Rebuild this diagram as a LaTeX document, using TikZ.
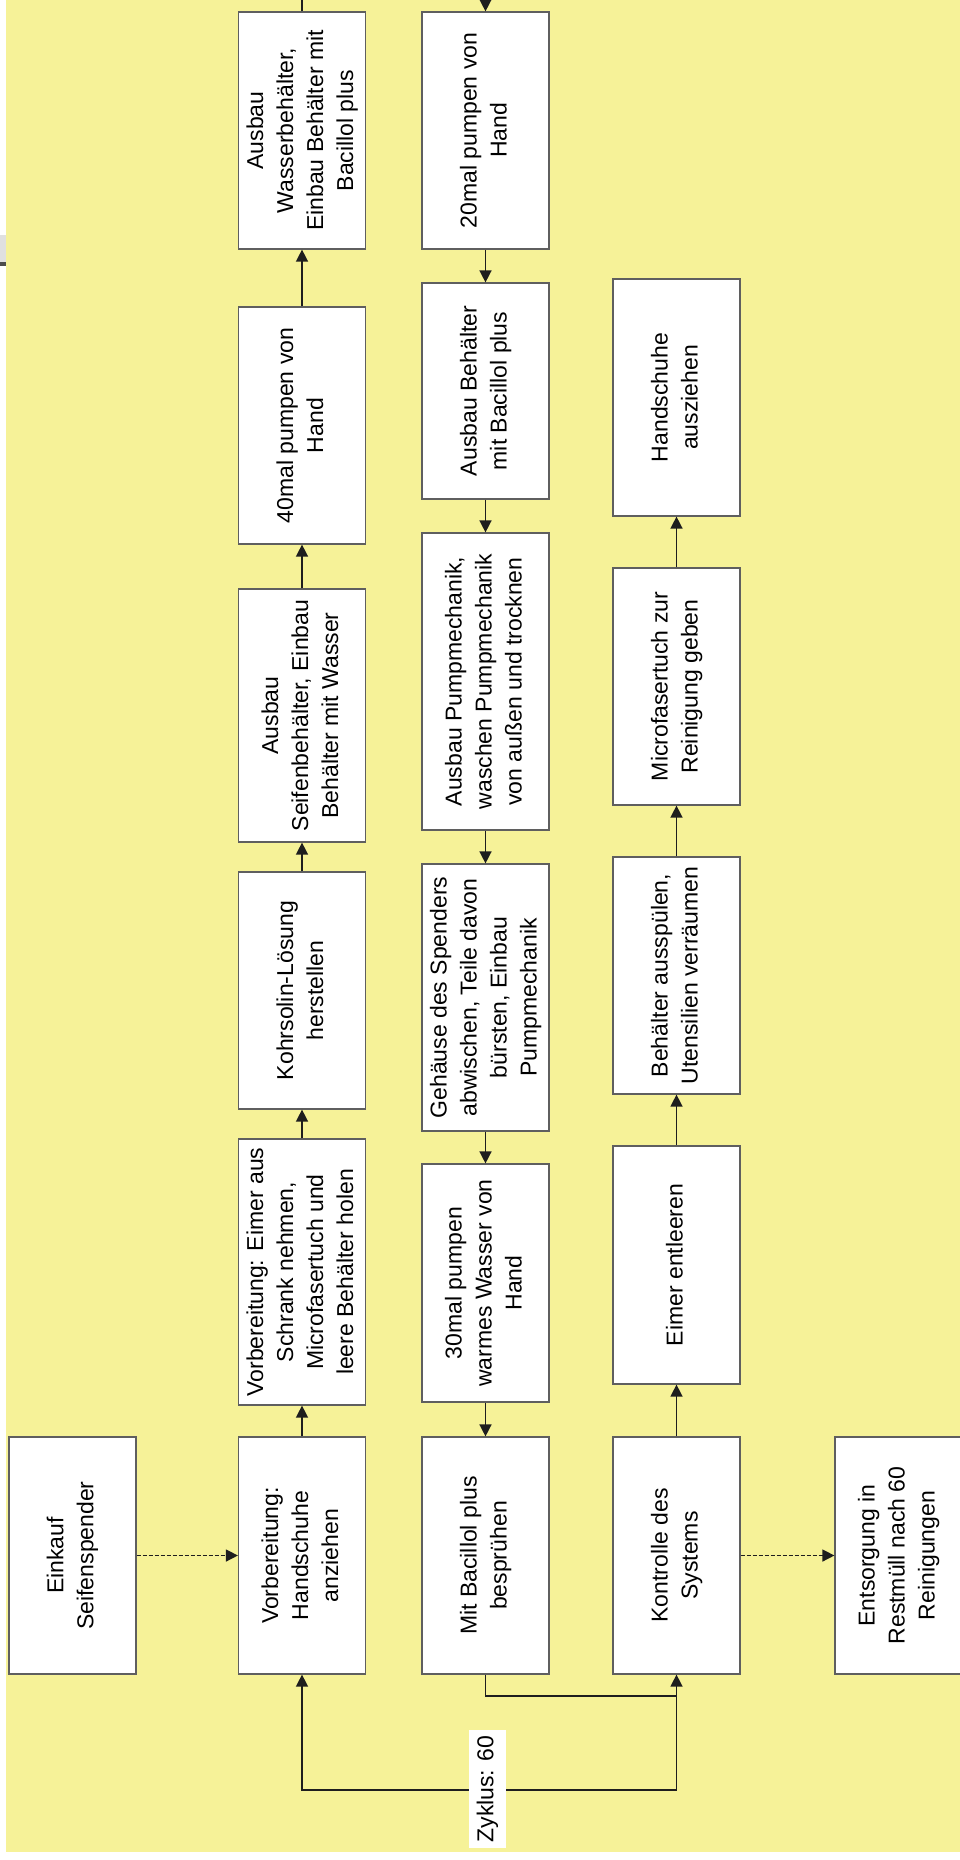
\documentclass[tikz,border=0pt]{standalone}
\usepackage{fontspec}
\setmainfont{Liberation Sans}
\usetikzlibrary{arrows.meta}
\definecolor{bgyellow}{RGB}{246,242,152}
\definecolor{lineblk}{RGB}{30,30,30}
\definecolor{boxgray}{RGB}{95,95,95}
\newcommand\rt[1]{\rotatebox{90}{\begin{tabular}{@{}c@{}}#1\end{tabular}}}
\begin{document}
\begin{tikzpicture}[x=0.75pt,y=-0.75pt,
  box/.style={draw=boxgray, line width=0.9pt, fill=white, inner sep=0pt,
    minimum width=95.25pt, minimum height=177.75pt,
    font=\fontsize{17.25pt}{22.5pt}\selectfont},
  conn/.style={draw=lineblk, line width=1.1pt},
  arr/.style={conn, -{Triangle[length=9pt,width=9pt]}},
  darr/.style={arr, dash pattern=on 3pt off 1.5pt},
  lbl/.style={fill=white, inner sep=0pt, minimum width=27.75pt, minimum height=88.5pt,
    font=\fontsize{17.25pt}{22.5pt}\selectfont}]
\useasboundingbox (0,0) rectangle (960,1860);
\fill[white] (0,0) rectangle (960,1860);
\fill[bgyellow] (6,0) rectangle (960,1852);
\fill[black!12] (0,235) rectangle (6,262);
\fill[black!70] (0,262) rectangle (6,266);

% column 1
\node[box] (ek) at (72.5,1555.5) {\rt{Einkauf\\Seifenspender}};
% column 2
\node[box] (vh) at (302,1555.5) {\rt{Vorbereitung:\\Handschuhe\\anziehen}};
\node[box, minimum height=199.5pt] (vb) at (302,1272) {\rt{Vorbereitung: Eimer aus\\Schrank nehmen,\\Microfasertuch und\\leere Behälter holen}};
\node[box] (kl) at (302,990.5) {\rt{Kohrsolin-Lösung\\herstellen}};
\node[box, minimum height=189.75pt] (sb) at (302,715.5) {\rt{Ausbau\\Seifenbehälter, Einbau\\Behälter mit Wasser}};
\node[box] (p40) at (302,425.5) {\rt{40mal pumpen von\\Hand}};
\node[box] (wb) at (302,130.5) {\rt{Ausbau\\Wasserbehälter,\\Einbau Behälter mit\\Bacillol plus}};
% column 3
\node[box] (p20) at (485.5,130.5) {\rt{20mal pumpen von\\Hand}};
\node[box, minimum height=162pt] (ab) at (485.5,391) {\rt{Ausbau Behälter\\mit Bacillol plus}};
\node[box, minimum height=222.75pt] (pm) at (485.5,681.5) {\rt{Ausbau Pumpmechanik,\\waschen Pumpmechanik\\von außen und trocknen}};
\node[box, minimum height=200.25pt] (gs) at (485.5,997.5) {\rt{Gehäuse des Spenders\\abwischen, Teile davon\\bürsten, Einbau\\Pumpmechanik}};
\node[box, minimum height=178.5pt] (p30) at (485.5,1283) {\rt{30mal pumpen\\warmes Wasser von\\Hand}};
\node[box] (mb) at (485.5,1555.5) {\rt{Mit Bacillol plus\\besprühen}};
% column 4
\node[box] (hs) at (676.5,397.5) {\rt{Handschuhe\\ausziehen}};
\node[box] (mf) at (676.5,686.5) {\rt{Microfasertuch zur\\Reinigung geben}};
\node[box] (ba) at (676.5,975.5) {\rt{Behälter ausspülen,\\Utensilien verräumen}};
\node[box, minimum height=178.5pt] (ee) at (676.5,1265) {\rt{Eimer entleeren}};
\node[box] (kt) at (676.5,1555.5) {\rt{Kontrolle des\\Systems}};
% column 5
\node[box] (es) at (898.5,1555.5) {\rt{Entsorgung in\\Restmüll nach 60\\Reinigungen}};

\coordinate (t2) at (302,-4);
\coordinate (t3) at (485.5,-4);
\coordinate (j1) at (676.5,1696);
\coordinate (j2) at (676.5,1790);

% column 2 upward
\draw[arr] (vh) -- (vb);
\draw[arr] (vb) -- (kl);
\draw[arr] (kl) -- (sb);
\draw[arr] (sb) -- (p40);
\draw[arr] (p40) -- (wb);
\draw[conn] (wb) -- (t2);
% column 3 downward
\draw[arr] (t3) -- (p20);
\draw[arr] (p20) -- (ab);
\draw[arr] (ab) -- (pm);
\draw[arr] (pm) -- (gs);
\draw[arr] (gs) -- (p30);
\draw[arr] (p30) -- (mb);
% column 4 upward
\draw[arr] (kt) -- (ee);
\draw[arr] (ee) -- (ba);
\draw[arr] (ba) -- (mf);
\draw[arr] (mf) -- (hs);
% dashed
\draw[darr] (ek) -- (vh);
\draw[darr] (kt) -- (es);
% loop
\draw[conn] (mb.south) |- (j1);
\draw[arr] (j2) -- (kt.south);
\draw[arr] (j2) -| (vh.south);
\node[lbl] (zy) at (487.5,1789) {\rotatebox{90}{Zyklus: 60}};
\end{tikzpicture}
\end{document}
